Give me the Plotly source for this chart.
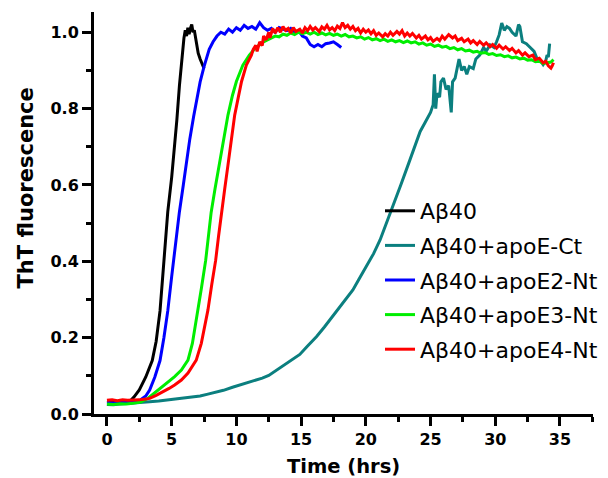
import plotly.graph_objects as go

# ---------------- data ----------------
series_names = ["Aβ40", "Aβ40+apoE-Ct", "Aβ40+apoE2-Nt", "Aβ40+apoE3-Nt", "Aβ40+apoE4-Nt"]
series_colors = ["#000000", "#0b7f7f", "#0000ff", "#00ee00", "#ff0000"]

t_ab40 = [0, 0.5, 1.0, 1.5, 1.8, 2.1, 2.5, 3.0, 3.5, 3.8, 4.1, 4.4, 4.7, 5.0, 5.2, 5.4, 5.6, 5.8,
          5.95, 6.05, 6.15, 6.25, 6.35, 6.45, 6.55, 6.65, 6.75, 6.9, 7.05, 7.2, 7.35, 7.5]
v_ab40 = [0.030, 0.031, 0.030, 0.032, 0.034, 0.045, 0.063, 0.097, 0.14, 0.19, 0.27, 0.40, 0.53, 0.62,
          0.69, 0.77, 0.86, 0.94, 0.985, 1.005, 0.99, 1.012, 0.995, 1.01, 1.02, 1.0, 1.005, 0.975,
          0.945, 0.93, 0.915, 0.905]

t_ct = [0, 0.5, 1.0, 1.5, 2.0, 2.7, 3.3, 4.0, 4.5, 5.0, 5.5, 6.0, 6.5, 7.2, 7.8, 8.5, 9.0, 9.7, 10.3,
        11.0, 11.5, 12.0, 12.5, 13.0, 13.4, 14.0, 14.5, 14.9, 15.5, 16.2, 16.8, 17.4, 18.2, 19.0, 19.5,
        20.05, 20.6, 21.1, 21.6, 22.1, 22.7, 23.4, 23.8, 24.2, 24.6, 25.0, 25.2, 25.3, 25.4, 25.5, 25.7,
        25.8, 26.0, 26.2, 26.4, 26.6, 26.7, 26.9, 27.2, 27.4, 27.6, 27.8, 28.0, 28.3, 28.5, 28.8, 29.1,
        29.3, 29.6, 29.9, 30.1, 30.3, 30.5, 30.7, 30.9, 31.1, 31.3, 31.6, 31.8, 31.9, 32.1, 32.4, 32.7,
        33.0, 33.2, 33.5, 33.7, 33.9, 34.0, 34.1, 34.2]
v_ct = [0.025, 0.024, 0.026, 0.027, 0.028, 0.030, 0.032, 0.034, 0.036, 0.038, 0.040, 0.042, 0.044,
        0.047, 0.052, 0.057, 0.062, 0.070, 0.076, 0.083, 0.088, 0.094, 0.101, 0.112, 0.123, 0.135,
        0.145, 0.156, 0.178, 0.203, 0.228, 0.254, 0.290, 0.325, 0.355, 0.386, 0.420, 0.456, 0.500,
        0.543, 0.600, 0.665, 0.700, 0.740, 0.765, 0.790, 0.810, 0.890, 0.800, 0.840, 0.830, 0.870,
        0.880, 0.850, 0.860, 0.790, 0.870, 0.880, 0.930, 0.900, 0.910, 0.890, 0.910, 0.905, 0.930,
        0.940, 0.960, 0.950, 0.967, 0.960, 0.975, 0.993, 1.024, 1.005, 1.015, 1.010, 1.000, 0.990,
        1.020, 1.015, 0.975, 0.970, 0.960, 0.950, 0.933, 0.925, 0.915, 0.925, 0.940, 0.935, 0.970]

t_e2 = [0, 0.5, 1.0, 1.5, 2.0, 2.5, 3.0, 3.3, 3.7, 4.1, 4.4, 4.7, 5.0, 5.3, 5.6, 5.9, 6.1, 6.4, 6.7,
        7.0, 7.2, 7.5, 7.9, 8.2, 8.5, 8.8, 9.1, 9.4, 9.7, 10.0, 10.3, 10.6, 10.9, 11.2, 11.5, 11.8,
        12.1, 12.4, 12.7, 13.0, 13.3, 13.6, 13.9, 14.2, 14.5, 14.8, 15.1, 15.4, 15.7, 16.0, 16.3,
        16.6, 16.9, 17.2, 17.5, 17.8, 18.1]
v_e2 = [0.030, 0.029, 0.031, 0.030, 0.032, 0.035, 0.047, 0.063, 0.097, 0.14, 0.20, 0.27, 0.36, 0.45,
        0.53, 0.60, 0.65, 0.72, 0.78, 0.84, 0.87, 0.91, 0.955, 0.975, 0.99, 1.0, 0.995, 1.008, 1.0,
        1.012, 1.005, 1.018, 1.01, 1.015, 1.008, 1.025, 1.012, 1.005, 1.01, 1.0, 1.012, 1.008, 1.004,
        1.01, 1.0, 1.005, 0.99, 0.985, 0.968, 0.962, 0.968, 0.962, 0.97, 0.972, 0.975, 0.968, 0.96]

t_e3 = [0, 0.5, 1.0, 1.5, 2.0, 2.6, 3.2, 3.8, 4.2, 4.6, 5.23, 5.75, 6.26, 6.6, 6.83, 7.03, 7.3, 7.63,
        7.85, 8.05, 8.35, 8.66, 9.0, 9.35, 9.7, 10.0, 10.5, 11.0, 11.5, 11.8, 12.1, 12.4, 12.7, 13.0,
        13.3, 13.6, 13.9, 14.2, 14.5, 14.8, 15.1, 15.4, 15.7, 16.0, 16.3, 16.6, 16.9, 17.2, 17.5,
        17.8, 18.1, 18.4, 18.7, 19.0, 19.3, 19.6, 19.9, 20.2, 20.5, 20.8, 21.1, 21.4, 21.7, 22.0,
        22.3, 22.6, 22.9, 23.2, 23.5, 23.8, 24.1, 24.4, 24.7, 25.0, 25.3, 25.6, 25.9, 26.2, 26.5,
        26.8, 27.1, 27.4, 27.7, 28.0, 28.3, 28.6, 28.9, 29.2, 29.5, 29.8, 30.1, 30.4, 30.7, 31.0,
        31.3, 31.6, 31.9, 32.2, 32.5, 32.8, 33.1, 33.4, 33.7, 34.0, 34.3, 34.5]
v_e3 = [0.026, 0.025, 0.027, 0.026, 0.028, 0.031, 0.042, 0.058, 0.068, 0.080, 0.098, 0.115, 0.141,
        0.185, 0.229, 0.272, 0.330, 0.403, 0.470, 0.528, 0.590, 0.652, 0.720, 0.783, 0.835, 0.871,
        0.914, 0.940, 0.960, 0.968, 0.975, 0.980, 0.985, 0.990, 0.988, 0.995, 0.992, 0.998, 0.994,
        1.000, 0.996, 1.000, 0.995, 1.000, 0.994, 0.998, 0.993, 0.997, 0.992, 0.995, 0.990, 0.994,
        0.988, 0.990, 0.985, 0.988, 0.982, 0.986, 0.980, 0.983, 0.978, 0.982, 0.976, 0.980, 0.975,
        0.978, 0.973, 0.977, 0.972, 0.975, 0.969, 0.972, 0.966, 0.969, 0.963, 0.966, 0.961, 0.963,
        0.957, 0.960, 0.954, 0.957, 0.951, 0.953, 0.948, 0.950, 0.945, 0.947, 0.942, 0.944, 0.939,
        0.941, 0.936, 0.938, 0.933, 0.935, 0.930, 0.932, 0.927, 0.928, 0.923, 0.924, 0.918, 0.920,
        0.922, 0.928]

t_e4 = [0, 0.4, 0.8, 1.2, 1.6, 2.0, 2.5, 3.0, 3.3, 3.8, 4.33, 4.8, 5.23, 5.75, 6.26, 6.6, 6.9, 7.29,
        7.55, 7.8, 8.1, 8.4, 8.62, 8.84, 9.1, 9.35, 9.6, 9.87, 10.15, 10.4, 10.77, 11.16, 11.3, 11.5,
        11.6, 11.8, 12.0, 12.1, 12.3, 12.5, 12.6, 12.8, 13.0, 13.2, 13.4, 13.6, 13.8, 14.0, 14.2,
        14.4, 14.6, 14.9, 15.1, 15.3, 15.5, 15.7, 15.9, 16.1, 16.4, 16.6, 16.8, 17.0, 17.2, 17.4,
        17.6, 17.8, 18.0, 18.2, 18.4, 18.6, 18.8, 19.0, 19.2, 19.4, 19.6, 19.8, 20.0, 20.2, 20.4,
        20.6, 20.8, 21.0, 21.3, 21.5, 21.7, 21.9, 22.1, 22.4, 22.6, 22.8, 23.0, 23.2, 23.4, 23.6,
        23.9, 24.1, 24.3, 24.6, 24.8, 25.0, 25.2, 25.5, 25.7, 25.9, 26.1, 26.4, 26.7, 26.9, 27.1,
        27.4, 27.6, 27.9, 28.1, 28.3, 28.6, 28.8, 29.1, 29.3, 29.6, 29.8, 30.1, 30.3, 30.6, 30.8,
        31.1, 31.3, 31.6, 31.8, 32.1, 32.3, 32.6, 32.9, 33.1, 33.4, 33.7, 33.9, 34.1, 34.3, 34.4, 34.5]
v_e4 = [0.036, 0.037, 0.035, 0.037, 0.036, 0.036, 0.037, 0.039, 0.041, 0.049, 0.058, 0.067, 0.076,
        0.089, 0.107, 0.124, 0.141, 0.185, 0.229, 0.272, 0.340, 0.403, 0.465, 0.527, 0.590, 0.652,
        0.720, 0.783, 0.830, 0.871, 0.914, 0.940, 0.955, 0.966, 0.950, 0.975, 0.965, 0.990, 0.980,
        1.000, 0.985, 1.010, 0.998, 1.012, 1.000, 1.015, 1.005, 1.010, 0.998, 1.012, 1.002, 1.008,
        0.998, 1.012, 1.004, 1.015, 1.006, 1.012, 1.002, 1.014, 1.008, 1.018, 1.006, 1.012, 1.004,
        1.016, 1.010, 1.025, 1.012, 1.018, 1.008, 1.015, 1.004, 1.010, 0.998, 1.008, 1.000, 1.006,
        0.996, 1.004, 0.992, 0.998, 0.988, 0.996, 0.990, 1.000, 0.992, 1.002, 0.995, 1.004, 0.990,
        0.998, 0.990, 0.997, 0.985, 0.992, 0.982, 0.990, 0.980, 0.986, 0.976, 0.984, 0.978, 0.990,
        0.982, 0.994, 0.985, 0.990, 0.978, 0.984, 0.975, 0.982, 0.972, 0.978, 0.968, 0.976, 0.966,
        0.972, 0.962, 0.968, 0.958, 0.966, 0.956, 0.962, 0.952, 0.958, 0.946, 0.952, 0.940, 0.946,
        0.936, 0.940, 0.928, 0.932, 0.920, 0.924, 0.912, 0.906, 0.912, 0.920]

x_ticks = [0, 5, 10, 15, 20, 25, 30, 35]
y_ticks = [0.0, 0.2, 0.4, 0.6, 0.8, 1.0]
x_title = "Time (hrs)"
y_title = "ThT fluorescence"

# ---------------- figure ----------------
# the page body adds an 8 px offset at the top-left, so the figure is 8 px smaller
OFF = 8
W, H = 608 - OFF, 478 - OFF
L, R, T, B = 94 - OFF, 15, 12 - OFF, 64
PW, PH = W - L - R, H - T - B


def px_x(page_x):
    return (page_x - OFF - L) / PW


def px_y(page_y):
    return 1 - (page_y - OFF - T) / PH


xs = [t_ab40, t_ct, t_e2, t_e3, t_e4]
ys = [v_ab40, v_ct, v_e2, v_e3, v_e4]

fig = go.Figure()
for i, (name, col) in enumerate(zip(series_names, series_colors)):
    fig.add_trace(go.Scatter(
        x=xs[i], y=ys[i], mode="lines", name=name, legendgroup=f"g{i}",
        line=dict(color=col, width=3),
    ))

axis_common = dict(
    showline=True, linecolor="black", linewidth=3,
    ticks="outside", ticklen=9, tickwidth=2.5, tickcolor="black",
    showgrid=False, zeroline=False, mirror=False, automargin=False,
    tickfont=dict(family="DejaVu Sans", size=16, color="black", weight="bold"),
)

fig.update_xaxes(
    range=[-1, 37.55], tickvals=x_ticks,
    minor=dict(ticks="outside", ticklen=5, tickwidth=2.5, tickcolor="black", dtick=2.5, tick0=0),
    **axis_common,
)
fig.update_yaxes(
    range=[0, 1.053], tickvals=y_ticks, tickformat=".1f",
    minor=dict(ticks="outside", ticklen=5, tickwidth=2.5, tickcolor="black", dtick=0.1, tick0=0),
    **axis_common,
)

fig.add_annotation(
    text=y_title, textangle=-90, xref="paper", yref="paper",
    x=px_x(25), y=px_y(188.5), showarrow=False,
    font=dict(family="DejaVu Sans", size=21, color="black", weight="bold"),
    xanchor="center", yanchor="middle",
)
fig.add_annotation(
    text=x_title, xref="paper", yref="paper",
    x=0.5, y=px_y(467), showarrow=False,
    font=dict(family="DejaVu Sans", size=19.5, color="black", weight="bold"),
    xanchor="center", yanchor="middle",
)

fig.update_layout(
    width=W, height=H,
    margin=dict(l=L, r=R, t=T, b=B, autoexpand=False),
    paper_bgcolor="white", plot_bgcolor="white",
    showlegend=True,
    legend=dict(
        x=px_x(380), y=px_y(190), xanchor="left", yanchor="top",
        bgcolor="rgba(0,0,0,0)", borderwidth=0,
        font=dict(family="DejaVu Sans", size=22, color="black"),
        tracegroupgap=3, itemwidth=30,
    ),
)

fig.write_html("out.html")
